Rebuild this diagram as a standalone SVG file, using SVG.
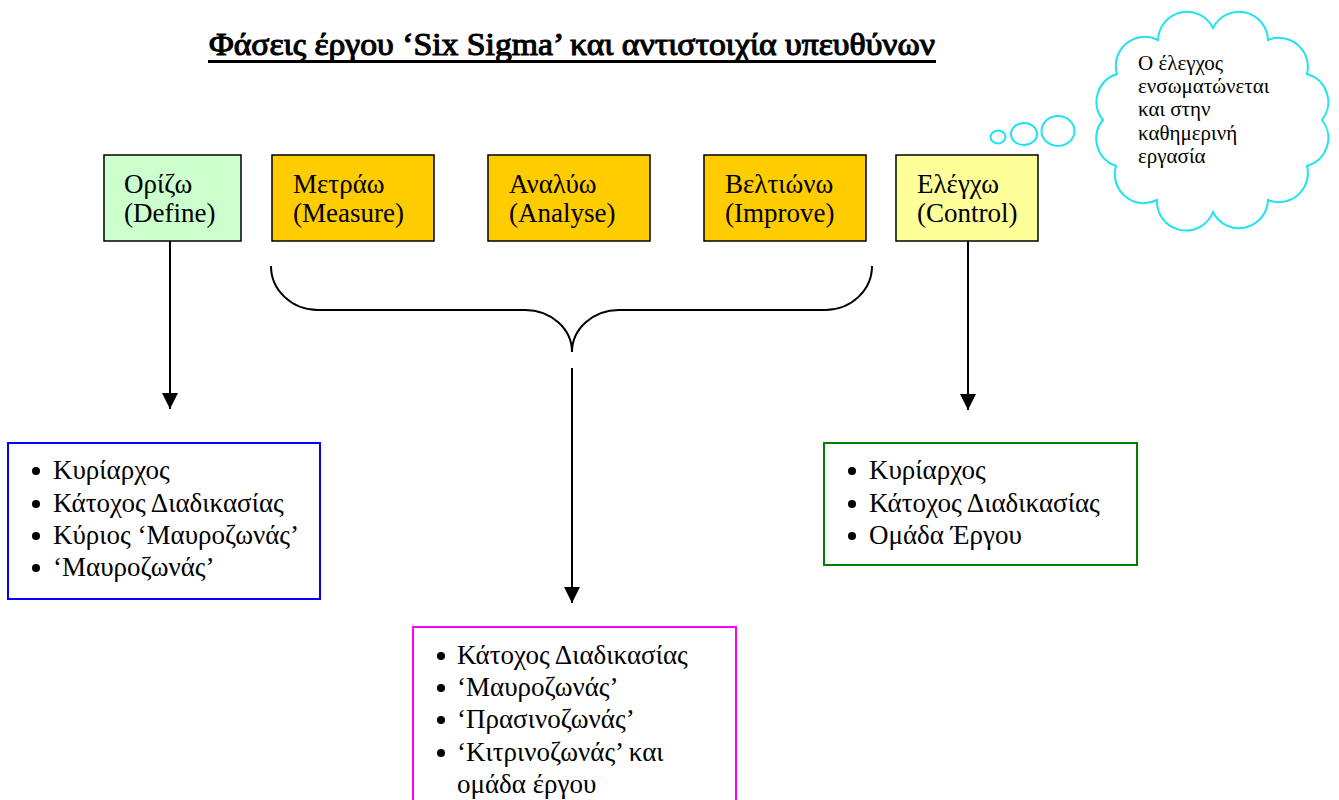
<svg xmlns="http://www.w3.org/2000/svg" width="1339" height="800" viewBox="0 0 1339 800">
  <defs>
    <style>
      .title { font-family: "Liberation Serif", "Times New Roman", serif; font-size: 32px; fill: #000; stroke: #000; stroke-width: 1.1; }
      .lbl { font-family: "Liberation Serif", "Times New Roman", serif; font-size: 27px; fill: #000; }
      .note { font-family: "Liberation Serif", "Times New Roman", serif; font-size: 21px; fill: #000; }
      .phase { stroke: #000; stroke-width: 1.5; }
      .conn { stroke: #000; stroke-width: 2; fill: none; }
      .cloud { stroke: #1EE3F0; stroke-width: 2; fill: #fff; }
    </style>
    <marker id="arrow" markerUnits="userSpaceOnUse" markerWidth="18" markerHeight="16" refX="16" refY="8" orient="auto">
      <path d="M0,0 L16,8 L0,16 Z" fill="#000"/>
    </marker>
  </defs>

  <rect width="1339" height="800" fill="#fff"/>

  <!-- heading -->
  <g id="title">
    <text class="title" x="209" y="55" textLength="726" lengthAdjust="spacingAndGlyphs">Φάσεις έργου ‘Six Sigma’ και αντιστοιχία υπευθύνων</text>
    <rect x="208" y="60" width="728" height="3" fill="#000"/>
  </g>

  <!-- phase boxes -->
  <g id="define">
    <rect class="phase" x="104" y="155" width="137" height="86" fill="#CCFFCC"/>
    <text class="lbl" x="124" y="193">Ορίζω</text>
    <text class="lbl" x="124" y="222">(Define)</text>
  </g>
  <g id="measure">
    <rect class="phase" x="272" y="155" width="162" height="86" fill="#FFCC00"/>
    <text class="lbl" x="293" y="193">Μετράω</text>
    <text class="lbl" x="293" y="222">(Measure)</text>
  </g>
  <g id="analyse">
    <rect class="phase" x="488" y="155" width="162" height="86" fill="#FFCC00"/>
    <text class="lbl" x="509" y="193">Αναλύω</text>
    <text class="lbl" x="509" y="222">(Analyse)</text>
  </g>
  <g id="improve">
    <rect class="phase" x="704" y="155" width="162" height="86" fill="#FFCC00"/>
    <text class="lbl" x="725" y="193">Βελτιώνω</text>
    <text class="lbl" x="725" y="222">(Improve)</text>
  </g>
  <g id="control">
    <rect class="phase" x="896" y="155" width="142" height="86" fill="#FFFF99"/>
    <text class="lbl" x="917" y="193">Ελέγχω</text>
    <text class="lbl" x="917" y="222">(Control)</text>
  </g>

  <!-- thought cloud -->
  <g id="cloud-note">
    <ellipse class="cloud" cx="998" cy="137" rx="7.5" ry="6.5"/>
    <ellipse class="cloud" cx="1024" cy="134" rx="13" ry="11"/>
    <ellipse class="cloud" cx="1058" cy="131" rx="16.5" ry="15"/>
    <path class="cloud" d="M1322,120
      A29,29 0 0 1 1307,166
      A29,29 0 0 1 1268,200
      A29,29 0 0 1 1213,212
      A29,29 0 0 1 1157,200
      A29,29 0 0 1 1116,166
      A29,29 0 0 1 1103,120
      A29,29 0 0 1 1117,74
      A29,29 0 0 1 1158,40
      A29,29 0 0 1 1213,28
      A29,29 0 0 1 1268,40
      A29,29 0 0 1 1307,74
      A29,29 0 0 1 1322,120 Z"/>
    <text class="note" x="1138" y="70">Ο έλεγχος</text>
    <text class="note" x="1138" y="93">ενσωματώνεται</text>
    <text class="note" x="1138" y="116">και στην</text>
    <text class="note" x="1138" y="140">καθημερινή</text>
    <text class="note" x="1138" y="163">εργασία</text>
  </g>

  <!-- responsibility boxes -->
  <g id="define-roles">
    <rect x="8" y="443" width="312" height="156" fill="#fff" stroke="#0000FF" stroke-width="2"/>
    <g fill="#000">
      <circle cx="36" cy="471" r="4"/>
      <circle cx="36" cy="504" r="4"/>
      <circle cx="36" cy="536" r="4"/>
      <circle cx="36" cy="568" r="4"/>
    </g>
    <text class="lbl" x="53" y="479">Κυρίαρχος</text>
    <text class="lbl" x="53" y="512">Κάτοχος Διαδικασίας</text>
    <text class="lbl" x="53" y="544">Κύριος ‘Μαυροζωνάς’</text>
    <text class="lbl" x="53" y="576">‘Μαυροζωνάς’</text>
  </g>

  <g id="dmai-roles">
    <path d="M413,800 V627 H736 V800" fill="#fff" stroke="#FF00FF" stroke-width="2"/>
    <g fill="#000">
      <circle cx="441" cy="656" r="4"/>
      <circle cx="441" cy="688" r="4"/>
      <circle cx="441" cy="720" r="4"/>
      <circle cx="441" cy="753" r="4"/>
    </g>
    <text class="lbl" x="457" y="664">Κάτοχος Διαδικασίας</text>
    <text class="lbl" x="457" y="696">‘Μαυροζωνάς’</text>
    <text class="lbl" x="457" y="728">‘Πρασινοζωνάς’</text>
    <text class="lbl" x="457" y="761">‘Κιτρινοζωνάς’ και</text>
    <text class="lbl" x="457" y="793">ομάδα έργου</text>
  </g>

  <g id="control-roles">
    <rect x="824" y="443" width="313" height="122" fill="#fff" stroke="#008000" stroke-width="2"/>
    <g fill="#000">
      <circle cx="852" cy="471" r="4"/>
      <circle cx="852" cy="504" r="4"/>
      <circle cx="852" cy="536" r="4"/>
    </g>
    <text class="lbl" x="869" y="479">Κυρίαρχος</text>
    <text class="lbl" x="869" y="512">Κάτοχος Διαδικασίας</text>
    <text class="lbl" x="869" y="544">Ομάδα Έργου</text>
  </g>

  <!-- connectors -->
  <g id="connectors">
    <path class="conn" d="M271,266 A47,44 0 0 0 318,310 H525 A47,42 0 0 1 572,352 A47,42 0 0 1 619,310 H825 A47,44 0 0 0 872,266"/>
    <line class="conn" x1="170" y1="241" x2="170" y2="409" marker-end="url(#arrow)"/>
    <line class="conn" x1="572" y1="368" x2="572" y2="603" marker-end="url(#arrow)"/>
    <line class="conn" x1="968" y1="241" x2="968" y2="410" marker-end="url(#arrow)"/>
  </g>
</svg>
